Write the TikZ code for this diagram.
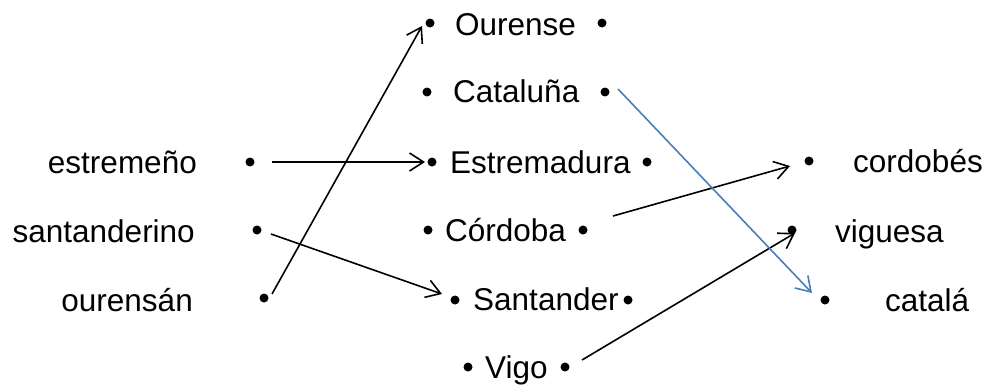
\documentclass[tikz,border=0pt]{standalone}
\usepackage{fontspec}
\setmainfont{Liberation Sans}
\usetikzlibrary{arrows.meta,calc}
\definecolor{linkblue}{HTML}{4A7EBB}
\tikzset{
  dot/.style={circle, fill=black, inner sep=0pt, minimum size=9pt},
  word/.style={inner sep=0pt, font=\fontsize{31.5}{38}\selectfont},
  link/.style={line width=1.6pt, -{Straight Barb[length=14pt,width=18pt]}}
}
\begin{document}
\begin{tikzpicture}[x=1pt,y=-1pt]
    \useasboundingbox (0,0) rectangle (992,391);

    % left column
    \node[word, anchor=base east] (est) at (197,173) {estremeño};
    \node[dot] (estB) at (250,162) {};
    \node[word, anchor=base east] (sant) at (195,242) {santanderino};
    \node[dot] (santB) at (257,230) {};
    \node[word, anchor=base east] (our) at (193,311) {ourensán};
    \node[dot] (ourB) at (264,298) {};

    % middle column
    \node[dot] (ourL) at (430,23) {};
    \node[word, anchor=base west] (ourense) at (455,35) {Ourense};
    \node[dot] (ourR) at (602,23) {};
    \node[dot] (catL) at (427,92) {};
    \node[word, anchor=base west] (cat) at (453,102) {Cataluña};
    \node[dot] (catR) at (605,92) {};
    \node[dot] (estreL) at (432,162) {};
    \node[word, anchor=base west] (estre) at (450,173) {Estremadura};
    \node[dot] (estreR) at (647,162) {};
    \node[dot] (cordL) at (428,230) {};
    \node[word, anchor=base west] (cord) at (445,241) {Córdoba};
    \node[dot] (cordR) at (583,230) {};
    \node[dot] (santaL) at (455,300) {};
    \node[word, anchor=base west] (santa) at (473,310) {Santander};
    \node[dot] (santaR) at (628,300) {};
    \node[dot] (vigoL) at (468,367) {};
    \node[word, anchor=base west] (vigo) at (485,378) {Vigo};
    \node[dot] (vigoR) at (565,367) {};

    % right column
    \node[dot] (cordobB) at (809,161) {};
    \node[word, anchor=base west] (cordob) at (853,172) {cordobés};
    \node[dot] (vigB) at (792,230) {};
    \node[word, anchor=base west] (vig) at (835,242) {viguesa};
    \node[dot] (catalB) at (825,300) {};
    \node[word, anchor=base west] (catal) at (885,311) {catalá};

    % links
    \draw[link] ($(estB)+(22,0)$) -- ($(estreL)+(-7,0)$);
    \draw[link] ($(santB)+(14,4)$) -- ($(santaL)+(-13,-6)$);
    \draw[link] ($(ourB)+(8,-4)$) -- ($(ourL)+(-8,3)$);
    \draw[link] ($(cordR)+(30,-14)$) -- ($(cordobB)+(-19,5)$);
    \draw[link] ($(vigoR)+(17,-7)$) -- ($(vigB)+(3,3)$);
    \draw[link, draw=linkblue] ($(catR)+(13,-3)$) -- ($(catalB)+(-13,-7)$);
\end{tikzpicture}
\end{document}
